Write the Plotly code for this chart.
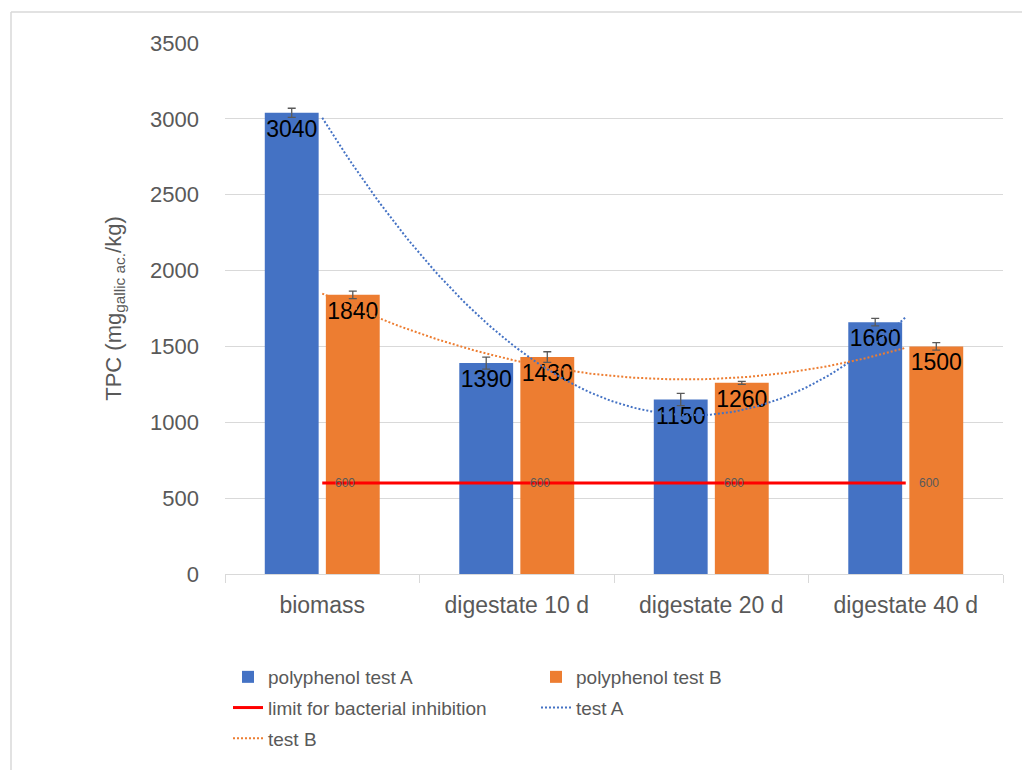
import numpy as np
import plotly.graph_objects as go

categories = ["biomass", "digestate 10 d", "digestate 20 d", "digestate 40 d"]
test_a = [3040, 1390, 1150, 1660]
test_b = [1840, 1430, 1260, 1500]
err_a = [30, 40, 40, 25]
err_b = [25, 35, 10, 25]
limit = [600, 600, 600, 600]
y_ticks = [0, 500, 1000, 1500, 2000, 2500, 3000, 3500]

pos = list(range(len(categories)))

BLUE = "#4472C4"
ORANGE = "#ED7D31"
GRAY = "#595959"
FONT = "Liberation Sans"

# second order polynomial trendlines (as in the source chart)
xs = np.linspace(pos[0], pos[-1], 121)
trend_a = np.polyval(np.polyfit(pos, test_a, 2), xs)
trend_b = np.polyval(np.polyfit(pos, test_b, 2), xs)

fig = go.Figure()
fig.add_trace(go.Bar(
    x=pos, y=test_a, name="polyphenol test A", marker=dict(color=BLUE, line=dict(width=0)),
    error_y=dict(type="data", array=err_a, color=GRAY, thickness=1.3, width=4),
    text=[str(v) for v in test_a], textposition="inside", insidetextanchor="end", textangle=0,
    textfont=dict(size=23, color="black", family=FONT), constraintext="none",
    legend="legend", legendgroup="g1",
))
fig.add_trace(go.Bar(
    x=pos, y=test_b, name="polyphenol test B", marker=dict(color=ORANGE, line=dict(width=0)),
    error_y=dict(type="data", array=err_b, color=GRAY, thickness=1.3, width=4),
    text=[str(v) for v in test_b], textposition="inside", insidetextanchor="end", textangle=0,
    textfont=dict(size=23, color="black", family=FONT), constraintext="none",
    legend="legend2", legendgroup="g2",
))
fig.add_trace(go.Scatter(
    x=pos, y=limit, mode="lines", name="limit for bacterial inhibition",
    line=dict(color="#FF0000", width=3), legend="legend", legendgroup="g3",
))
fig.add_trace(go.Scatter(
    x=xs, y=trend_a, mode="lines", name="test A",
    line=dict(color=BLUE, width=2, dash="2px,2px"), legend="legend2", legendgroup="g4",
))
fig.add_trace(go.Scatter(
    x=xs, y=trend_b, mode="lines", name="test B",
    line=dict(color=ORANGE, width=2, dash="2px,2px"), legend="legend", legendgroup="g5",
))

# value labels of the limit line
for p, v in zip(pos, limit):
    fig.add_annotation(x=p, y=v, text=str(v), showarrow=False, xanchor="left", yanchor="middle",
                       xshift=11, font=dict(size=12, color=GRAY, family=FONT))

OFF = 8  # page body margin
W, H = 1014, 762
L, T = 225 - OFF, 43 - OFF
R = W + OFF - 1003
B = H + OFF - 574
pw, ph = W - L - R, H - T - B


def px_x(p):
    return (p - OFF - L) / pw


def px_y(p):
    return (H + OFF - B - p) / ph


leg_common = dict(
    orientation="v", xanchor="left", yanchor="top", tracegroupgap=3,
    font=dict(size=19, color=GRAY, family=FONT), traceorder="grouped",
    bgcolor="rgba(0,0,0,0)",
)

fig.update_layout(
    width=W, height=H,
    margin=dict(l=L, r=R, t=T, b=B),
    paper_bgcolor="white", plot_bgcolor="white",
    font=dict(family=FONT, color=GRAY, size=20),
    barmode="group", bargap=0.372, bargroupgap=0.118,
    showlegend=True,
    legend=dict(x=px_x(228), y=px_y(658), **leg_common),
    legend2=dict(x=px_x(536), y=px_y(658), **leg_common),
    xaxis=dict(
        range=[-0.5, 3.5], tickvals=pos, ticktext=categories, showgrid=False,
        ticks="", tickfont=dict(size=23, color=GRAY), showline=True, linecolor="#d9d9d9",
        linewidth=1, zeroline=False, ticklabelstandoff=10,
        minor=dict(tickvals=[-0.5, 0.5, 1.5, 2.5, 3.5], ticks="outside", ticklen=8,
                   tickcolor="#d9d9d9", tickwidth=1, showgrid=False),
    ),
    yaxis=dict(
        range=[0, 3500], tickvals=y_ticks, showgrid=True, gridcolor="#d9d9d9", gridwidth=1,
        zeroline=False, showline=False, tickfont=dict(size=22, color=GRAY), ticklen=0,
        ticks="", ticklabelstandoff=25,
        title=dict(text="TPC (mg<sub>gallic ac.</sub>/kg)", font=dict(size=22, color=GRAY), standoff=22),
    ),
    shapes=[
        dict(type="line", xref="paper", yref="paper", x0=px_x(11), x1=px_x(1030),
             y0=px_y(12), y1=px_y(12), line=dict(color="#d9d9d9", width=1.5)),
        dict(type="line", xref="paper", yref="paper", x0=px_x(11), x1=px_x(11),
             y0=px_y(12), y1=px_y(778), line=dict(color="#d9d9d9", width=1.5)),
    ],
)

fig.write_html("out.html")
